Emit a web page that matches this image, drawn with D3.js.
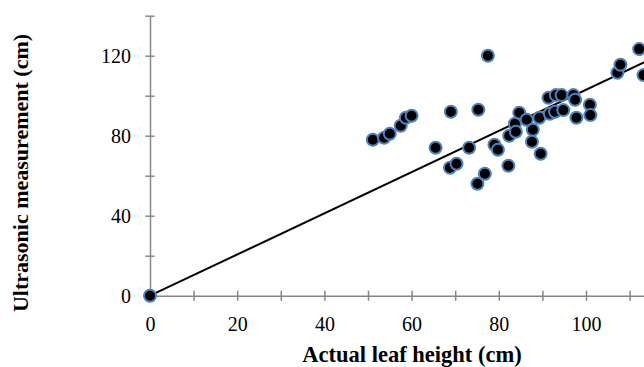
<!DOCTYPE html>
<meta charset="utf-8">
<script src="https://d3js.org/d3.v7.min.js"></script>
<style>
  body { margin: 0; background: #fff; }
  text { font-family: "Liberation Serif", "Times New Roman", serif; }
</style>
<div id="my_dataviz"></div>
<script>

var actual = [0, 51.1, 53.7, 55, 57.5, 58.7, 60, 65.5, 69, 68.8, 70.3, 73.2, 75.3, 75.1,
  76.8, 77.5, 79, 79.8, 82.2, 82.4, 83.7, 83.9, 84.7, 86.4, 87.8, 87.6, 89.6, 89.3,
  91.4, 91.7, 92.9, 93.1, 94.4, 94.8, 97.1, 97.5, 97.8, 100.9, 101, 107.2, 107.9, 112.2, 113.2];
var ultrasonic = [0, 78, 79, 81, 85, 89, 90, 74, 92, 64, 66, 74, 93, 56,
  61, 120, 75.5, 73, 65, 80, 86, 82, 91.5, 88, 83, 77, 71, 89,
  99, 91, 92, 100.3, 100.3, 92.8, 100.3, 98, 89, 95.5, 90.3, 111.5, 115.5, 123.3, 110.3];
var xTicks = [0, 20, 40, 60, 80, 100];   // 120 falls outside the window
var yTicks = [0, 40, 80, 120];
var fitSlope = 1.03;   // trend line through origin
var fitEnd = 120;

var width = 644, height = 367;

var svg = d3.select("#my_dataviz")
  .append("svg")
    .attr("width", width)
    .attr("height", height);

var x = d3.scaleLinear().domain([0, 120]).range([150, 673.2]);
var y = d3.scaleLinear().domain([0, 140]).range([295.7, 15.7]);

var axisColor = "#868686";

// X axis (ticks cross the line)
var xAxis = svg.append("g")
  .attr("transform", "translate(0," + y(0) + ")")
  .call(d3.axisBottom(x).tickValues(d3.range(0, 121, 10)).tickSize(5).tickSizeOuter(0)
    .tickFormat(function(d) { return xTicks.indexOf(d) >= 0 ? d : ""; }));
xAxis.select(".domain").attr("stroke", axisColor).attr("stroke-width", 1.5);
xAxis.selectAll(".tick line").attr("stroke", axisColor).attr("stroke-width", 1.5).attr("y1", -5);
xAxis.selectAll(".tick text").attr("y", 0).attr("dy", "35px")
  .style("font-size", "20px").attr("fill", "#000");

// Y axis
var yAxis = svg.append("g")
  .attr("transform", "translate(" + x(0) + ",0)")
  .call(d3.axisLeft(y).tickValues(d3.range(0, 141, 20)).tickSize(4.5).tickSizeOuter(0)
    .tickFormat(function(d) { return yTicks.indexOf(d) >= 0 ? d : ""; }));
yAxis.select(".domain").attr("stroke", axisColor).attr("stroke-width", 1.5);
yAxis.selectAll(".tick line").attr("stroke", axisColor).attr("stroke-width", 1.5).attr("x1", 4.5);
yAxis.selectAll(".tick text").attr("x", -19).attr("dy", "0.35em")
  .style("font-size", "20px").attr("fill", "#000");

// trend line
svg.append("line")
  .attr("x1", x(0)).attr("y1", y(0))
  .attr("x2", x(fitEnd)).attr("y2", y(fitEnd * fitSlope))
  .attr("stroke", "#000").attr("stroke-width", 2);

// points
var pts = actual.map(function(d, i) { return [d, ultrasonic[i]]; });
svg.selectAll("mydot")
  .data(pts)
  .enter()
  .append("circle")
    .attr("cx", function(d) { return x(d[0]); })
    .attr("cy", function(d) { return y(d[1]); })
    .attr("r", 6)
    .style("fill", "#000")
    .style("stroke", "#4F81BD")
    .style("stroke-width", 2);

// axis titles
svg.append("text")
  .attr("x", 412).attr("y", 362)
  .attr("text-anchor", "middle")
  .style("font-size", "22.5px").style("font-weight", "bold")
  .text("Actual leaf height (cm)");

svg.append("text")
  .attr("transform", "translate(28,173)rotate(-90)")
  .attr("text-anchor", "middle")
  .style("font-size", "22px").style("font-weight", "bold")
  .text("Ultrasonic measurement (cm)");

</script>
